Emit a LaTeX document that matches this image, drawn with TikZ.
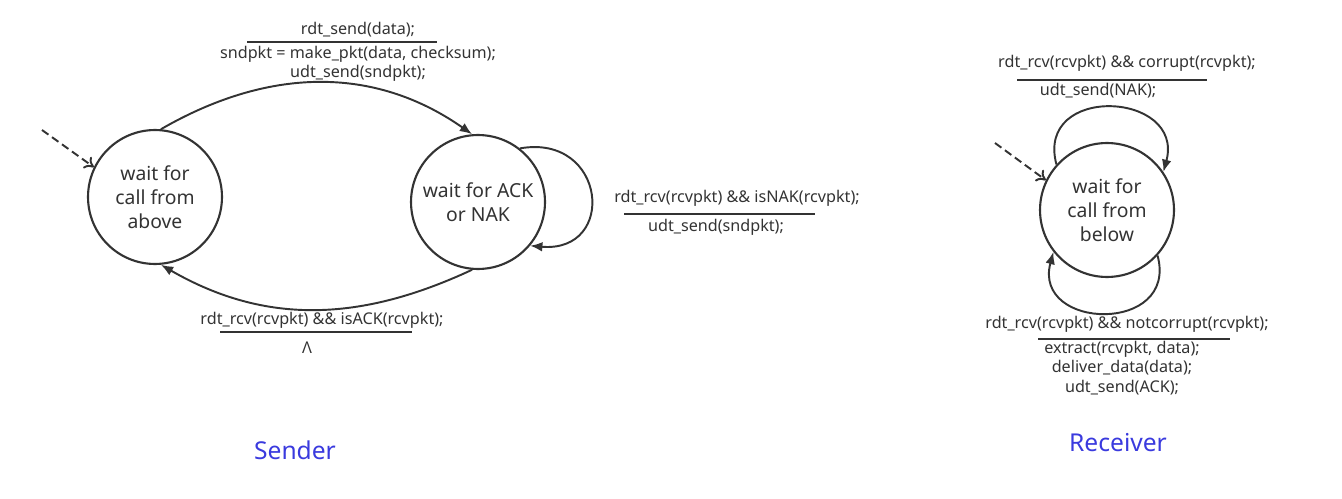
\documentclass[tikz,border=0pt]{standalone}
\usepackage{fontspec}
\setmainfont{Noto Sans}
\usepackage{xcolor}
\usetikzlibrary{arrows.meta}
\definecolor{ink}{RGB}{51,51,51}
\definecolor{title}{RGB}{58,58,222}

\begin{document}
\begin{tikzpicture}[x=0.02cm,y=0.02cm,
    state/.style={circle,draw=ink,line width=1.2pt,minimum size=2.68cm,inner sep=0pt,
      align=center,text=ink,font=\fontsize{11}{13.8}\selectfont},
    lbl/.style={text=ink,inner sep=0pt,align=center,font=\fontsize{9.2}{11}\selectfont},
    trans/.style={draw=ink,line width=1.1pt,-{Latex[length=7pt,width=5.5pt]}},
    init/.style={draw=ink,line width=1.1pt,dash pattern=on 4.5pt off 2.5pt,-{To[length=5pt,width=8pt]}},
    bar/.style={draw=ink,line width=1.2pt},
    side/.style={text=title,font=\fontsize{14}{17}\selectfont}]
  \useasboundingbox (0,0) rectangle (1342,498);

  % sender
  \node[state] (wca) at (155,301) {wait for\\call from\\above};
  \node[state] (wan) at (478,296) {wait for ACK\\or NAK};
  \coordinate (wcai) at (42,368);
  \draw[init] (wcai) -- (wca.154);
  \draw[trans] (wca.85) to[out=30,in=145] (wan.95);
  \draw[trans] (wan.-95) to[out=-155,in=-30] (wca.-85);
  \draw[trans] (wan.52) to[out=10,in=-5,looseness=2.3] (wan.-40);

  \node[lbl] (sg) at (358,468) {rdt\_send(data);};
  \coordinate (sbl) at (247,456); \coordinate (sbr) at (437,456);
  \draw[bar] (sbl) -- (sbr);
  \node[lbl] (sa) at (358,434) {sndpkt = make\_pkt(data, checksum);\\udt\_send(sndpkt);};

  \node[lbl] (ng) at (737,300) {rdt\_rcv(rcvpkt) \&\& isNAK(rcvpkt);};
  \coordinate (nbl) at (624,284); \coordinate (nbr) at (815,284);
  \draw[bar] (nbl) -- (nbr);
  \node[lbl] (na) at (716,271) {udt\_send(sndpkt);};

  \node[lbl] (ag) at (322,178) {rdt\_rcv(rcvpkt) \&\& isACK(rcvpkt);};
  \coordinate (abl) at (220,166); \coordinate (abr) at (412,166);
  \draw[bar] (abl) -- (abr);
  \node[lbl] (aa) at (307,150) {Λ};

  \node[side] (snd) at (295,48) {Sender};

  % receiver
  \node[state] (wcb) at (1107,288) {wait for\\call from\\below};
  \coordinate (wcbi) at (995,355);
  \draw[init] (wcbi) -- (wcb.154);
  \draw[trans] (wcb.138) to[out=105,in=75,looseness=2] (wcb.34);
  \draw[trans] (wcb.-42) to[out=-75,in=-105,looseness=2] (wcb.-142);

  \node[lbl] (cg) at (1127,435) {rdt\_rcv(rcvpkt) \&\& corrupt(rcvpkt);};
  \coordinate (cbl) at (1017,418); \coordinate (cbr) at (1207,418);
  \draw[bar] (cbl) -- (cbr);
  \node[lbl] (ca) at (1098,407) {udt\_send(NAK);};

  \node[lbl] (og) at (1127,174) {rdt\_rcv(rcvpkt) \&\& notcorrupt(rcvpkt);};
  \coordinate (obl) at (1038,159); \coordinate (obr) at (1230,159);
  \draw[bar] (obl) -- (obr);
  \node[lbl] (oa) at (1122,130) {extract(rcvpkt, data);\\deliver\_data(data);\\udt\_send(ACK);};

  \node[side] (rcv) at (1118,55) {Receiver};
\end{tikzpicture}
\end{document}
